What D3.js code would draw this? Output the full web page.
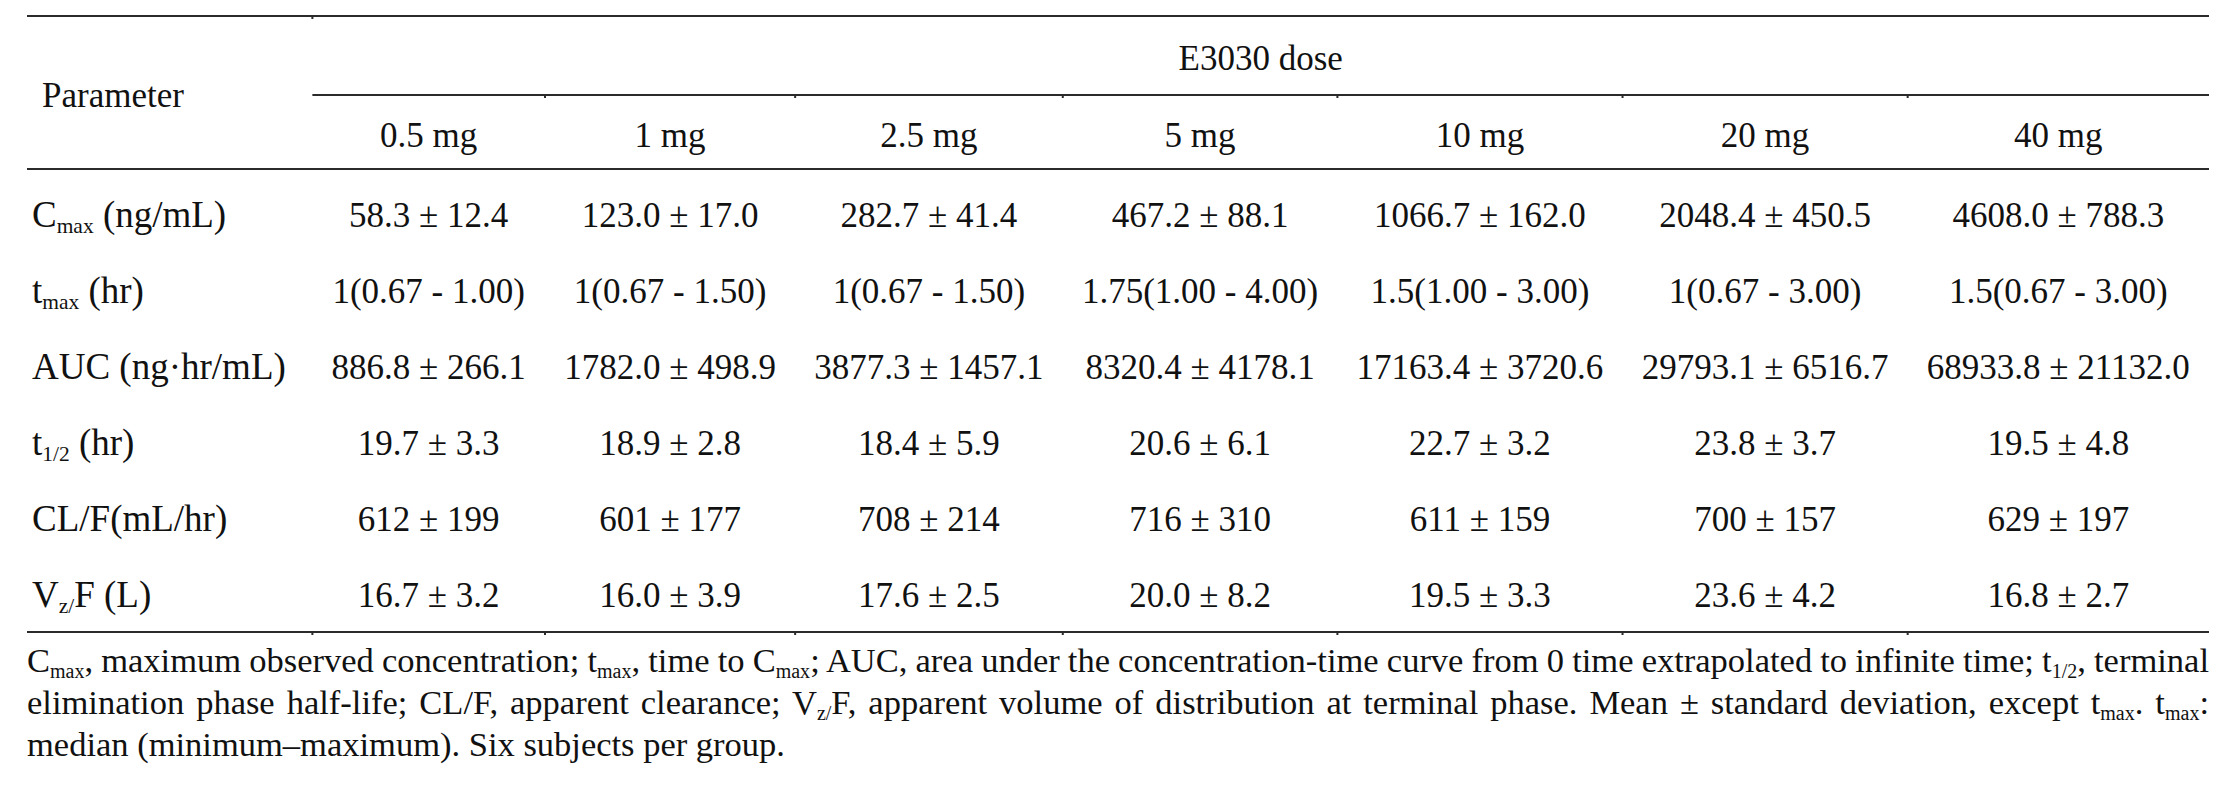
<!DOCTYPE html>
<html>
  <head>
    <meta charset="utf-8" />
    <title>E3030 pharmacokinetic parameters</title>
    <script src="https://d3js.org/d3.v7.min.js"></script>
    <style>
      body { margin: 0; background: #fff; }
      text { font-family: "Liberation Serif", "Times New Roman", serif; fill: #111; }
    </style>
  </head>
  <body>
    <svg id="chart" width="2222" height="798"></svg>

    <script>
      // Datos de la tabla
      const spanTitle = "E3030 dose";
      const stubTitle = "Parameter";
      const doses = ["0.5 mg", "1 mg", "2.5 mg", "5 mg", "10 mg", "20 mg", "40 mg"];
      const parameters = [
        "C_{max} (ng/mL)",
        "t_{max} (hr)",
        "AUC (ng·hr/mL)",
        "t_{1/2} (hr)",
        "CL/F(mL/hr)",
        "V_{z/}F (L)",
      ];
      const cmax = ["58.3 ± 12.4", "123.0 ± 17.0", "282.7 ± 41.4", "467.2 ± 88.1", "1066.7 ± 162.0", "2048.4 ± 450.5", "4608.0 ± 788.3"];
      const tmax = ["1(0.67 - 1.00)", "1(0.67 - 1.50)", "1(0.67 - 1.50)", "1.75(1.00 - 4.00)", "1.5(1.00 - 3.00)", "1(0.67 - 3.00)", "1.5(0.67 - 3.00)"];
      const auc = ["886.8 ± 266.1", "1782.0 ± 498.9", "3877.3 ± 1457.1", "8320.4 ± 4178.1", "17163.4 ± 3720.6", "29793.1 ± 6516.7", "68933.8 ± 21132.0"];
      const tHalf = ["19.7 ± 3.3", "18.9 ± 2.8", "18.4 ± 5.9", "20.6 ± 6.1", "22.7 ± 3.2", "23.8 ± 3.7", "19.5 ± 4.8"];
      const clF = ["612 ± 199", "601 ± 177", "708 ± 214", "716 ± 310", "611 ± 159", "700 ± 157", "629 ± 197"];
      const vzF = ["16.7 ± 3.2", "16.0 ± 3.9", "17.6 ± 2.5", "20.0 ± 8.2", "19.5 ± 3.3", "23.6 ± 4.2", "16.8 ± 2.7"];
      const rows = [cmax, tmax, auc, tHalf, clF, vzF];
      const footnote = [
        "C_{max}, maximum observed concentration; t_{max}, time to C_{max}; AUC, area under the concentration-time curve from 0 time extrapolated to infinite time; t_{1/2}, terminal",
        "elimination phase half-life; CL/F, apparent clearance; V_{z/}F, apparent volume of distribution at terminal phase. Mean ± standard deviation, except t_{max}. t_{max}:",
        "median (minimum–maximum). Six subjects per group.",
      ];

      // Medidas
      const left = 27;
      const right = 2209;
      const fontSize = 35;
      const labelSize = 37;
      const noteSize = 34.5;
      const ruleColor = "#2b2b2b";

      const svg = d3.select("#chart");

      // Texto con subíndices: "C_{max}" -> C + max en subíndice
      function rich(sel, str, size) {
        const parts = str.split(/(_\{[^}]*\})/).filter((p) => p !== "");
        let shifted = false;
        parts.forEach((p) => {
          const sub = p.startsWith("_{");
          const t = sel.append("tspan").text(sub ? p.slice(2, -1) : p);
          if (sub) {
            t.attr("font-size", size * 0.58).attr("dy", size * 0.16);
            shifted = true;
          } else {
            t.attr("font-size", size);
            if (shifted) t.attr("dy", -size * 0.16);
            shifted = false;
          }
        });
        return sel;
      }

      // Ancho natural de cada columna (autoajuste como en Word)
      const measure = svg.append("g").attr("visibility", "hidden");
      function textWidth(str, size) {
        const t = rich(measure.append("text"), str, size);
        const w = t.node().getComputedTextLength();
        t.remove();
        return w;
      }
      const stubWidth = d3.max(parameters, (d) => textWidth(d, 36));
      const colWidths = doses.map((d, i) =>
        d3.max(rows.map((r) => r[i]).concat([d]), (s) => textWidth(s, fontSize))
      );
      const pad = (right - left - stubWidth - d3.sum(colWidths)) / (doses.length + 1);
      const edges = [left + stubWidth + pad];
      colWidths.forEach((w) => edges.push(edges[edges.length - 1] + w + pad));

      const x = d3
        .scaleOrdinal()
        .domain(doses)
        .range(doses.map((d, i) => (edges[i] + edges[i + 1]) / 2));
      const y = d3.scalePoint().domain(d3.range(parameters.length)).range([227, 607]);

      // Reglas horizontales
      const rules = [
        { x1: left, x2: right, y: 16, ticks: [edges[0]] },
        { x1: edges[0], x2: right, y: 95, ticks: edges.slice(1, -1) },
        { x1: left, x2: right, y: 169, ticks: [] },
        { x1: left, x2: right, y: 632, ticks: edges.slice(0, -1) },
      ];
      svg
        .append("g")
        .selectAll("line")
        .data(rules)
        .join("line")
        .attr("x1", (d) => d.x1)
        .attr("x2", (d) => d.x2)
        .attr("y1", (d) => d.y)
        .attr("y2", (d) => d.y)
        .style("stroke", ruleColor)
        .style("stroke-width", "2.2px");
      // pequeñas marcas en los bordes de celda
      svg
        .append("g")
        .selectAll("rect")
        .data(rules.flatMap((r) => r.ticks.map((t) => ({ x: t, y: r.y }))))
        .join("rect")
        .attr("x", (d) => d.x - 1)
        .attr("y", (d) => d.y)
        .attr("width", 2)
        .attr("height", 3)
        .style("fill", ruleColor);

      // Encabezados
      svg
        .append("text")
        .attr("x", (edges[0] + right) / 2)
        .attr("y", 70)
        .attr("text-anchor", "middle")
        .attr("font-size", fontSize)
        .text(spanTitle);
      svg
        .append("text")
        .attr("x", 42)
        .attr("y", 107)
        .attr("font-size", fontSize)
        .text(stubTitle);
      svg
        .append("g")
        .selectAll("text")
        .data(doses)
        .join("text")
        .attr("x", (d) => x(d))
        .attr("y", 147)
        .attr("text-anchor", "middle")
        .attr("font-size", fontSize)
        .text((d) => d);

      // Filas
      const rowG = svg
        .append("g")
        .selectAll("g")
        .data(rows)
        .join("g")
        .attr("transform", (d, i) => `translate(0,${y(i)})`);
      rowG.each(function (d, i) {
        rich(d3.select(this).append("text").attr("x", 32), parameters[i], labelSize);
      });
      rowG
        .selectAll(".cell")
        .data((d) => d)
        .join("text")
        .attr("class", "cell")
        .attr("x", (d, i) => x(doses[i]))
        .attr("text-anchor", "middle")
        .attr("font-size", fontSize)
        .text((d) => d);

      // Nota al pie (justificada salvo la última línea)
      const noteY = d3.scalePoint().domain(d3.range(footnote.length)).range([672, 756]);
      footnote.forEach((line, i) => {
        const t = rich(
          svg.append("text").attr("x", left).attr("y", noteY(i)),
          line,
          noteSize
        );
        if (i < footnote.length - 1) {
          const natural = t.node().getComputedTextLength();
          const spaces = (line.match(/ /g) || []).length;
          t.style("word-spacing", `${(right - left - natural) / spaces}px`);
        }
      });
      measure.remove();
    </script>
  </body>
</html>
